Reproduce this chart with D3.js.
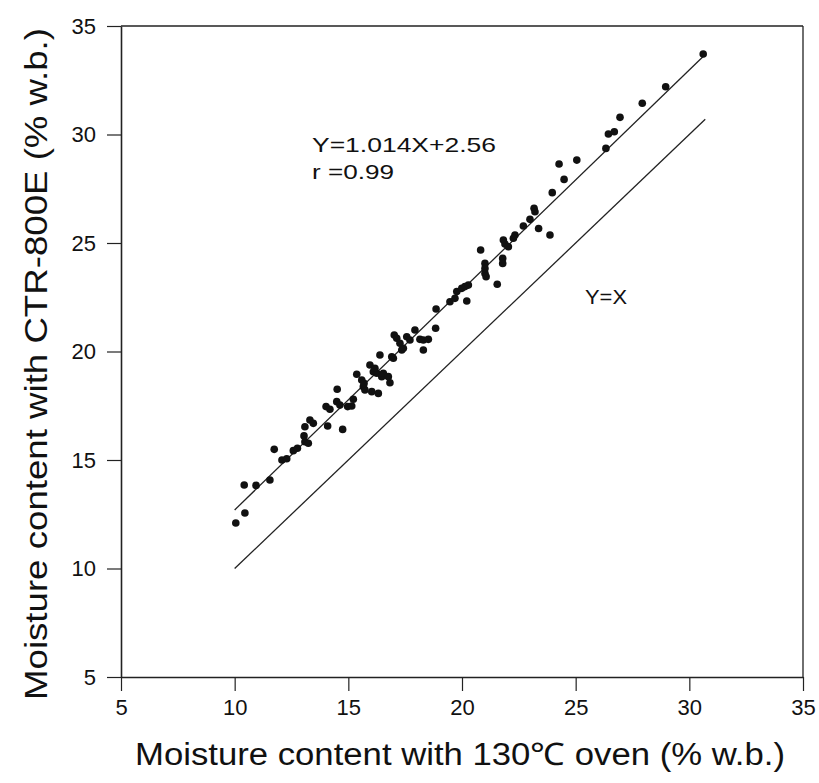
<!DOCTYPE html>
<html>
<head>
<meta charset="utf-8">
<script src="https://cdn.jsdelivr.net/npm/d3@7"></script>
<style>
  body { margin: 0; background: #fff; }
  svg { display: block; font-family: "Liberation Sans", Arial, sans-serif; }
</style>
</head>
<body>
<div id="chart"></div>
<script>
// oven moisture (x) vs CTR-800E moisture (y), % w.b.
const ovenMC = [
  10.05, 10.45, 10.42, 10.94, 11.55, 11.74, 12.08, 12.29, 12.58, 12.76,
  13.09, 13.24, 13.09, 13.31, 13.46, 13.05, 14.02, 14.19, 14.09, 14.51,
  14.49, 14.63, 14.75, 14.97, 15.22, 15.15, 15.37, 15.59, 15.66, 15.73,
  15.69, 15.95, 16.10, 16.25, 16.17, 16.39, 16.47, 16.54, 16.83, 16.76,
  16.03, 16.32, 16.91, 16.98, 17.02, 17.13, 17.27, 17.42, 17.35, 17.57,
  17.71, 17.93, 18.15, 18.30, 18.52, 18.30, 18.84, 18.86, 19.47, 19.69,
  19.77, 19.99, 20.13, 20.28, 20.21, 20.82, 21.01, 21.01, 21.01, 21.06,
  21.79, 21.79, 21.55, 21.82, 21.89, 22.04, 22.33, 22.26, 22.70, 23.37,
  23.87, 22.99, 23.17, 23.21, 23.97, 24.49, 24.27, 25.05, 26.33, 26.44,
  26.70, 26.95, 27.93, 28.96, 30.61
];
const ctrMC = [
  12.10, 12.56, 13.85, 13.83, 14.08, 15.49, 15.00, 15.06, 15.43, 15.54,
  15.84, 15.77, 16.53, 16.84, 16.69, 16.11, 17.46, 17.34, 16.57, 18.26,
  17.69, 17.53, 16.41, 17.46, 17.80, 17.49, 18.95, 18.69, 18.38, 18.23,
  18.53, 19.38, 19.07, 19.00, 19.23, 19.84, 18.84, 19.00, 18.56, 18.84,
  18.15, 18.07, 19.76, 19.69, 20.76, 20.61, 20.38, 20.15, 20.07, 20.68,
  20.53, 20.99, 20.56, 20.53, 20.56, 20.07, 21.07, 21.96, 22.29, 22.45,
  22.76, 22.91, 22.99, 23.06, 22.33, 24.68, 24.06, 23.83, 23.60, 23.45,
  24.29, 24.06, 23.10, 25.14, 24.95, 24.83, 25.37, 25.22, 25.78, 25.67,
  25.37, 26.09, 26.60, 26.44, 27.32, 27.93, 28.64, 28.82, 29.36, 30.02,
  30.13, 30.79, 31.44, 32.20, 33.71
];
const tickValues = [5, 10, 15, 20, 25, 30, 35];
const fitSlope = 1.014;
const fitIntercept = 2.56;
const fitRange = [10, 30.7];

const width = 819;
const height = 783;
const margin = { left: 121, right: 803, top: 26, bottom: 677 };

const svg = d3.select('#chart')
  .append('svg')
  .attr('width', width)
  .attr('height', height);

const x = d3.scaleLinear().domain([5, 35]).range([margin.left, margin.right]);
const y = d3.scaleLinear().domain([5, 35]).range([margin.bottom, margin.top]);

// frame: top and right edges without ticks
svg.append('line')
  .attr('x1', margin.left).attr('x2', margin.right)
  .attr('y1', margin.top).attr('y2', margin.top)
  .attr('stroke', '#222').attr('stroke-width', 1.6);
svg.append('line')
  .attr('x1', margin.right).attr('x2', margin.right)
  .attr('y1', margin.top).attr('y2', margin.bottom)
  .attr('stroke', '#222').attr('stroke-width', 1.3);

const xAxis = svg.append('g')
  .attr('transform', `translate(0,${margin.bottom})`)
  .call(d3.axisBottom(x).tickValues(tickValues).tickSize(14).tickPadding(8).tickSizeOuter(0));

const yAxis = svg.append('g')
  .attr('transform', `translate(${margin.left},0)`)
  .call(d3.axisLeft(y).tickValues(tickValues).tickSize(14).tickPadding(11).tickSizeOuter(0));

[xAxis, yAxis].forEach(g => {
  g.select('.domain').attr('stroke', '#222').attr('stroke-width', 1.6);
  g.selectAll('.tick line').attr('stroke', '#222').attr('stroke-width', 1.2);
  g.selectAll('.tick text')
    .attr('fill', '#111')
    .style('font-size', '22px')
    .style('font-family', '"Liberation Sans", Arial, sans-serif');
});

// Y = X reference line
svg.append('line')
  .attr('x1', x(fitRange[0])).attr('y1', y(fitRange[0]))
  .attr('x2', x(fitRange[1])).attr('y2', y(fitRange[1]))
  .attr('stroke', '#222').attr('stroke-width', 1.3);

// regression line
const fit = v => fitSlope * v + fitIntercept;
svg.append('line')
  .attr('x1', x(fitRange[0])).attr('y1', y(fit(fitRange[0])))
  .attr('x2', x(fitRange[1])).attr('y2', y(fit(fitRange[1])))
  .attr('stroke', '#222').attr('stroke-width', 1.3);

// measured points
svg.append('g')
  .selectAll('circle')
  .data(ovenMC.map((v, i) => [v, ctrMC[i]]))
  .enter()
  .append('circle')
  .attr('cx', d => x(d[0]))
  .attr('cy', d => y(d[1]))
  .attr('r', 3.8)
  .attr('fill', '#111');

// annotations
const note = svg.append('g')
  .style('font-size', '21px')
  .attr('fill', '#111');
note.append('text').attr('x', 312).attr('y', 152)
  .attr('textLength', 184).attr('lengthAdjust', 'spacingAndGlyphs')
  .text('Y=1.014X+2.56');
note.append('text').attr('x', 312).attr('y', 179)
  .attr('textLength', 82).attr('lengthAdjust', 'spacingAndGlyphs')
  .text('r =0.99');
note.append('text').attr('x', 585).attr('y', 304)
  .attr('textLength', 42).attr('lengthAdjust', 'spacingAndGlyphs')
  .text('Y=X');

// axis titles
svg.append('text')
  .attr('x', 460)
  .attr('y', 765)
  .attr('text-anchor', 'middle')
  .attr('textLength', 650).attr('lengthAdjust', 'spacingAndGlyphs')
  .style('font-size', '31px')
  .attr('fill', '#111')
  .text('Moisture content with 130℃ oven (% w.b.)');

svg.append('text')
  .attr('transform', 'translate(47,364) rotate(-90)')
  .attr('text-anchor', 'middle')
  .attr('textLength', 672).attr('lengthAdjust', 'spacingAndGlyphs')
  .style('font-size', '31px')
  .attr('fill', '#111')
  .text('Moisture content with CTR-800E (% w.b.)');
</script>
</body>
</html>
